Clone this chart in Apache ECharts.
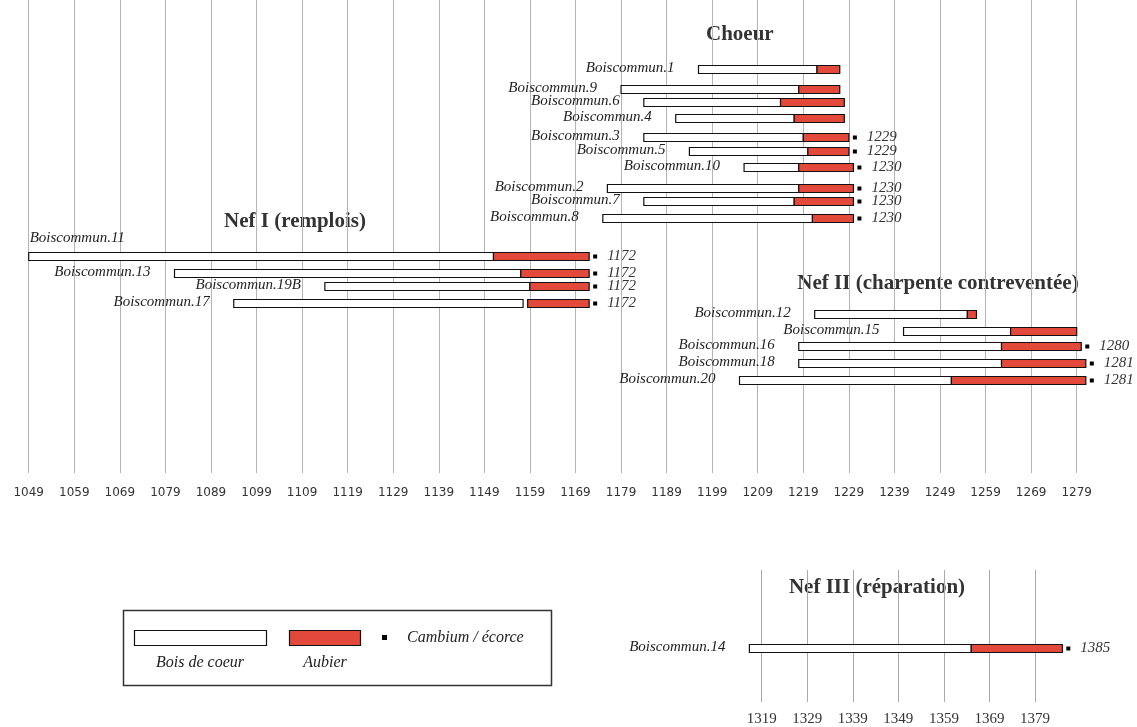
<!DOCTYPE html>
<html><head><meta charset="utf-8">
<script src="https://cdn.jsdelivr.net/npm/echarts/dist/echarts.min.js"></script>
<style>html,body{margin:0;padding:0;background:#fff}#c{width:1137px;height:727px}</style>
</head><body><div id="c"></div>
<script>
// ---- data (years) ----
const BASE_TOP = 1049;
const BASE_BOT = 1319;
const topTickCount = 23;   // 1049 .. 1279 every 10 years
const botTickCount = 6;    // 1319 .. 1379 every 10 years

const names = ['Boiscommun.1','Boiscommun.9','Boiscommun.6','Boiscommun.4','Boiscommun.3','Boiscommun.5',
  'Boiscommun.10','Boiscommun.2','Boiscommun.7','Boiscommun.8',
  'Boiscommun.11','Boiscommun.13','Boiscommun.19B','Boiscommun.17',
  'Boiscommun.12','Boiscommun.15','Boiscommun.16','Boiscommun.18','Boiscommun.20'];
const lanes = [4.4,5.65,6.45,7.5,8.7,9.6,10.6,11.9,12.75,13.8, 16.25,17.3,18.15,19.2, 19.9,21.0,21.95,23.0,24.1];
const heartStart = [1196,1179,1184,1191,1184,1194,1206,1176,1184,1175, 1049,1081,1114,1094, 1221.5,1241,1218,1218,1205];
const heartEnd   = [1222,1218,1214,1217,1219,1220,1218,1218,1217,1221, 1151,1157,1159,1157.5, 1255,1264.5,1262.5,1262.5,1251.5];
const sapStart   = [1222,1218,1214,1217,1219,1220,1218,1218,1217,1221, 1151,1157,1159,1158.5, 1255,1264.5,1262.5,1262.5,1251.5];
const sapEnd     = [1227,1227,1228,1228,1229,1229,1230,1230,1230,1230, 1172,1172,1172,1172, 1257,1279,1280,1281,1281];
const cambium    = [null,null,null,null,1229,1229,1230,1230,1230,1230, 1172,1172,1172,1172, null,null,1280,1281,1281];
const labelAbove = ['Boiscommun.11'];

const names3 = ['Boiscommun.14'];
const lanes3 = [5.9];
const heartStart3 = [1316.3];
const heartEnd3 = [1365];
const sapStart3 = [1365];
const sapEnd3 = [1385];
const cambium3 = [1385];

const RED = '#e2493a';
const SERIF = '"Liberation Serif", "DejaVu Serif", serif';

function buildData(base, lanesA, hs, he, ss, se) {
  return lanesA.map((l, i) => [l, hs[i] - base, he[i] - base, ss[i] - base, se[i] - base]);
}

function makeRender(nm, camb) {
  return function (params, api) {
    const i = params.dataIndex;
    const lane = api.value(0);
    const a = api.coord([api.value(1), lane]);
    const b = api.coord([api.value(2), lane]);
    const c = api.coord([api.value(3), lane]);
    const d = api.coord([api.value(4), lane]);
    const h = 8;
    const y = Math.round(a[1]) + 0.5;
    const ch = [];
    ch.push({type: 'rect', shape: {x: a[0], y: y - h / 2, width: b[0] - a[0], height: h},
      style: {fill: '#fff', stroke: '#111', lineWidth: 1.2}});
    ch.push({type: 'rect', shape: {x: c[0], y: y - h / 2, width: d[0] - c[0], height: h},
      style: {fill: RED, stroke: '#111', lineWidth: 1.2}});
    const name = nm[i];
    if (labelAbove.indexOf(name) >= 0) {
      ch.push({type: 'text', style: {text: name, x: a[0] + 1, y: y - 18, align: 'left', verticalAlign: 'middle',
        font: 'italic 15px ' + SERIF, fill: '#222'}});
    } else {
      ch.push({type: 'text', style: {text: name, x: a[0] - 24, y: y - 1, align: 'right', verticalAlign: 'middle',
        font: 'italic 15px ' + SERIF, fill: '#222'}});
    }
    if (camb[i] != null) {
      ch.push({type: 'rect', shape: {x: d[0] + 4, y: y - 2, width: 4, height: 4}, style: {fill: '#000'}});
      ch.push({type: 'text', style: {text: String(camb[i]), x: d[0] + 18, y: y, align: 'left', verticalAlign: 'middle',
        font: 'italic 15px ' + SERIF, fill: '#333'}});
    }
    return {type: 'group', children: ch};
  };
}

const chart = echarts.init(document.getElementById('c'), null, {renderer: 'canvas'});

const titleFont = 'bold 21px ' + SERIF;

const option = {
  backgroundColor: '#fff',
  animation: false,
  grid: [
    {left: 28.7, top: 0, width: 1048, height: 473},
    {left: 761.7, top: 570, width: 273.3, height: 132}
  ],
  xAxis: [
    {gridIndex: 0, type: 'value', min: 0, max: topTickCount * 10, interval: 10,
      axisLine: {show: false}, axisTick: {show: false},
      splitLine: {show: true, lineStyle: {color: '#b4b4b4', width: 1}},
      axisLabel: {formatter: v => String(v + BASE_TOP), fontFamily: '"DejaVu Sans", sans-serif', fontSize: 12, color: '#333', margin: 14}},
    {gridIndex: 1, type: 'value', min: 0, max: botTickCount * 10, interval: 10,
      axisLine: {show: false}, axisTick: {show: false},
      splitLine: {show: true, lineStyle: {color: '#a8a8a8', width: 1}},
      axisLabel: {formatter: v => String(v + BASE_BOT), fontFamily: SERIF, fontSize: 15, color: '#333', margin: 10}}
  ],
  yAxis: [
    {gridIndex: 0, type: 'value', min: 0, max: 30, inverse: true, show: false},
    {gridIndex: 1, type: 'value', min: 0, max: 10, inverse: true, show: false}
  ],
  series: [
    {type: 'custom', xAxisIndex: 0, yAxisIndex: 0, clip: false,
      renderItem: makeRender(names, cambium),
      encode: {x: [1, 2, 3, 4], y: 0},
      data: buildData(BASE_TOP, lanes, heartStart, heartEnd, sapStart, sapEnd)},
    {type: 'custom', xAxisIndex: 1, yAxisIndex: 1, clip: false,
      renderItem: makeRender(names3, cambium3),
      encode: {x: [1, 2, 3, 4], y: 0},
      data: buildData(BASE_BOT, lanes3, heartStart3, heartEnd3, sapStart3, sapEnd3)}
  ],
  graphic: [
    {type: 'text', left: 740 - 34, top: 24, style: {text: 'Choeur', font: titleFont, fill: '#333'}},
    {type: 'text', style: {text: 'Nef I (remplois)', x: 295, y: 222, align: 'center', verticalAlign: 'middle', font: titleFont, fill: '#333'}},
    {type: 'text', style: {text: 'Nef II (charpente contreventée)', x: 938, y: 284, align: 'center', verticalAlign: 'middle', font: titleFont, fill: '#333'}},
    {type: 'text', style: {text: 'Nef III (réparation)', x: 877, y: 588, align: 'center', verticalAlign: 'middle', font: titleFont, fill: '#333'}},
    // legend
    {type: 'rect', shape: {x: 123.5, y: 610.5, width: 428, height: 75}, style: {fill: '#fff', stroke: '#333', lineWidth: 1.5}},
    {type: 'rect', shape: {x: 134.5, y: 630.5, width: 132, height: 15}, style: {fill: '#fff', stroke: '#111', lineWidth: 1.2}},
    {type: 'rect', shape: {x: 289.5, y: 630.5, width: 71, height: 15}, style: {fill: RED, stroke: '#111', lineWidth: 1.2}},
    {type: 'rect', shape: {x: 382, y: 635, width: 5, height: 5}, style: {fill: '#000'}},
    {type: 'text', style: {text: 'Cambium / écorce', x: 407, y: 638, align: 'left', verticalAlign: 'middle', font: 'italic 16px ' + SERIF, fill: '#222'}},
    {type: 'text', style: {text: 'Bois de coeur', x: 200, y: 663, align: 'center', verticalAlign: 'middle', font: 'italic 16px ' + SERIF, fill: '#222'}},
    {type: 'text', style: {text: 'Aubier', x: 325, y: 663, align: 'center', verticalAlign: 'middle', font: 'italic 16px ' + SERIF, fill: '#222'}}
  ]
};
chart.setOption(option);
</script></body></html>
